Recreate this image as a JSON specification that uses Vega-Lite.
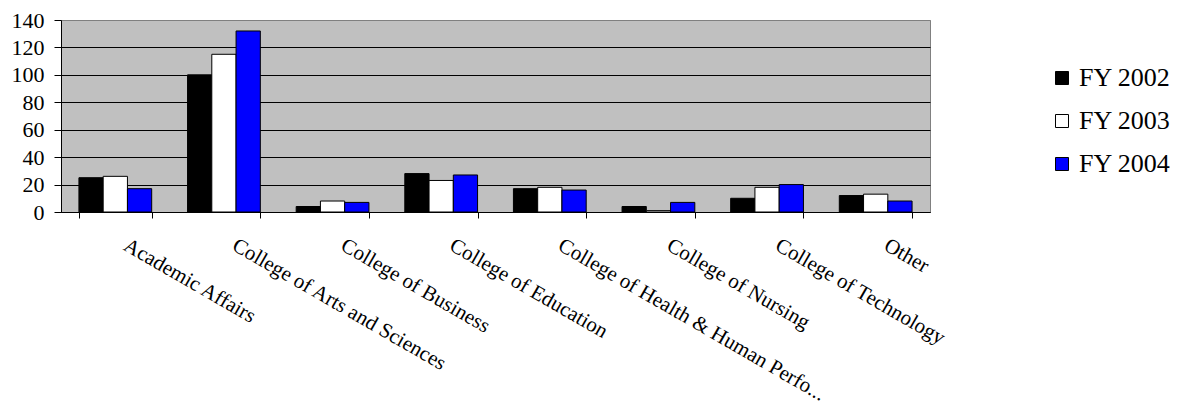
{
  "$schema": "https://vega.github.io/schema/vega-lite/v6.json",
  "width": 869,
  "height": 192,
  "autosize": {"type": "none"},
  "padding": {"left": 61, "top": 20, "right": 252, "bottom": 198},
  "background": "white",
  "config": {
    "view": {"fill": "#C0C0C0", "stroke": "#808080", "strokeWidth": 1},
    "font": "Liberation Serif"
  },
  "data": {
    "values": [
      {"dept": "Academic Affairs", "year": "FY 2002", "count": 25},
      {"dept": "Academic Affairs", "year": "FY 2003", "count": 26},
      {"dept": "Academic Affairs", "year": "FY 2004", "count": 17},
      {"dept": "College of Arts and Sciences", "year": "FY 2002", "count": 100},
      {"dept": "College of Arts and Sciences", "year": "FY 2003", "count": 115},
      {"dept": "College of Arts and Sciences", "year": "FY 2004", "count": 132},
      {"dept": "College of Business", "year": "FY 2002", "count": 4},
      {"dept": "College of Business", "year": "FY 2003", "count": 8},
      {"dept": "College of Business", "year": "FY 2004", "count": 7},
      {"dept": "College of Education", "year": "FY 2002", "count": 28},
      {"dept": "College of Education", "year": "FY 2003", "count": 23},
      {"dept": "College of Education", "year": "FY 2004", "count": 27},
      {"dept": "College of Health & Human Perfo...", "year": "FY 2002", "count": 17},
      {"dept": "College of Health & Human Perfo...", "year": "FY 2003", "count": 18},
      {"dept": "College of Health & Human Perfo...", "year": "FY 2004", "count": 16},
      {"dept": "College of Nursing", "year": "FY 2002", "count": 4},
      {"dept": "College of Nursing", "year": "FY 2003", "count": 1},
      {"dept": "College of Nursing", "year": "FY 2004", "count": 7},
      {"dept": "College of Technology", "year": "FY 2002", "count": 10},
      {"dept": "College of Technology", "year": "FY 2003", "count": 18},
      {"dept": "College of Technology", "year": "FY 2004", "count": 20},
      {"dept": "Other", "year": "FY 2002", "count": 12},
      {"dept": "Other", "year": "FY 2003", "count": 13},
      {"dept": "Other", "year": "FY 2004", "count": 8}
    ]
  },
  "mark": {"type": "bar", "stroke": "black", "strokeWidth": 1},
  "encoding": {
    "x": {
      "field": "dept",
      "type": "nominal",
      "sort": null,
      "scale": {"paddingInner": 0.33, "paddingOuter": 0.165},
      "axis": {
        "title": null,
        "labelAngle": 30,
        "labelAlign": "left",
        "labelBaseline": "top",
        "labelFontSize": 21,
        "labelFont": "Liberation Serif",
        "labelColor": "black",
        "tickBand": "extent",
        "tickSize": 6,
        "tickColor": "black",
        "domainColor": "black",
        "labelPadding": 16,
        "labelOffset": 15,
        "labelLimit": 500,
        "labelOverlap": false,
        "labelFlush": false,
        "grid": false
      }
    },
    "xOffset": {
      "field": "year",
      "type": "nominal",
      "sort": ["FY 2002", "FY 2003", "FY 2004"],
      "scale": {"paddingInner": 0, "paddingOuter": 0}
    },
    "y": {
      "field": "count",
      "type": "quantitative",
      "scale": {"domain": [0, 140], "nice": false},
      "axis": {
        "title": null,
        "values": [0, 20, 40, 60, 80, 100, 120, 140],
        "labelFontSize": 22,
        "labelFont": "Liberation Serif",
        "labelColor": "black",
        "tickSize": 7,
        "tickColor": "black",
        "domainColor": "black",
        "grid": true,
        "gridColor": {"condition": {"test": "datum.value === 140", "value": "#808080"}, "value": "black"},
        "gridOpacity": 1,
        "gridWidth": 1,
        "labelPadding": 10
      }
    },
    "color": {
      "field": "year",
      "type": "nominal",
      "scale": {"domain": ["FY 2002", "FY 2003", "FY 2004"], "range": ["#000000", "#FFFFFF", "#0000FF"]},
      "legend": {
        "title": null,
        "orient": "none",
        "legendX": 988,
        "legendY": 45,
        "symbolType": "square",
        "symbolSize": 169,
        "symbolStrokeColor": "black",
        "symbolStrokeWidth": 1,
        "symbolOpacity": 1,
        "labelFontSize": 26,
        "labelFont": "Liberation Serif",
        "labelColor": "black",
        "labelOffset": 4,
        "rowPadding": 17,
        "padding": 0
      }
    }
  }
}
